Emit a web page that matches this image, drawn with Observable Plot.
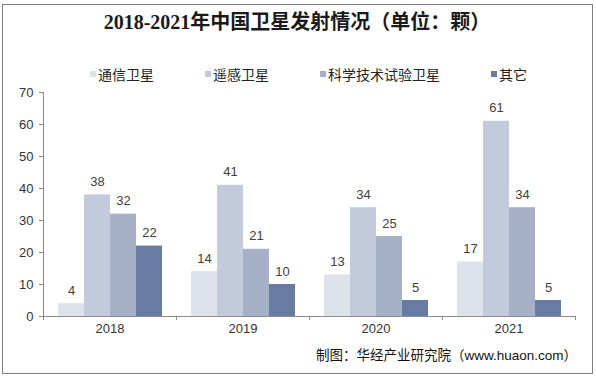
<!DOCTYPE html>
<html>
<head>
<meta charset="utf-8">
<script src="https://cdn.jsdelivr.net/npm/d3@7"></script>
<script src="https://cdn.jsdelivr.net/npm/@observablehq/plot@0.6"></script>
<style>
  html, body { margin: 0; padding: 0; background: #fff; }
  #page { position: relative; width: 596px; height: 377px; overflow: hidden; font-family: "Liberation Sans", "Noto Sans CJK SC", sans-serif; }
  #border { position: absolute; left: 2px; top: 4px; width: 591px; height: 370px; box-sizing: border-box; border: 1px solid #7f7f7f; }
  #title { position: absolute; left: 0; top: 9px; width: 594px; text-align: center; font-family: "Liberation Serif", "Noto Sans CJK SC", serif; font-weight: bold; font-size: 20px; line-height: 26px; color: #1a1a1a; }
  #legend { position: absolute; left: 90px; top: 64px; display: flex; gap: 51px; font-family: "Noto Sans CJK SC", sans-serif; font-size: 14px; line-height: 20px; color: #222; }
  #legend .item { display: flex; align-items: center; }
  #legend .sw { width: 6px; height: 6px; margin-right: 2px; }
  #chart { position: absolute; left: 0; top: 80px; }
  #caption { position: absolute; right: 19px; top: 346px; font-family: "Liberation Sans", "Noto Sans CJK SC", sans-serif; font-size: 13.5px; line-height: 20px; color: #111; white-space: nowrap; }
  #chart svg [aria-label="y-axis tick"] path { stroke: #8a8a8a; }
</style>
</head>
<body>
<div id="page">
  <div id="border"></div>
  <div id="title">2018-2021年中国卫星发射情况（单位：颗）</div>
  <div id="legend"></div>
  <div id="chart"></div>
  <div id="caption">制图：华经产业研究院（www.huaon.com）</div>
</div>
<script>
// ---- data ----
const years = ["2018", "2019", "2020", "2021"];
const seriesNames = ["通信卫星", "遥感卫星", "科学技术试验卫星", "其它"];
const commSat = [4, 14, 13, 17];
const remoteSat = [38, 41, 34, 61];
const sciTechSat = [32, 21, 25, 34];
const otherSat = [22, 10, 5, 5];
const seriesColors = ["#dde2eb", "#c3cadb", "#a6b1c8", "#687ca2"];
const yTicks = [0, 10, 20, 30, 40, 50, 60, 70];

const seriesValues = [commSat, remoteSat, sciTechSat, otherSat];
const rows = years.flatMap((yr, i) =>
  seriesNames.map((s, j) => ({ year: yr, series: s, value: seriesValues[j][i] }))
);

// ---- legend ----
const legend = document.getElementById("legend");
seriesNames.forEach((s, j) => {
  const item = document.createElement("div");
  item.className = "item";
  const sw = document.createElement("span");
  sw.className = "sw";
  sw.style.background = seriesColors[j];
  const tx = document.createElement("span");
  tx.textContent = s;
  item.appendChild(sw);
  item.appendChild(tx);
  legend.appendChild(item);
});

// ---- chart ----
const W = 596, H = 258, mL = 43, mR = 21, mT = 12, mB = 22;
const plot = Plot.plot({
  width: W,
  height: H,
  marginLeft: mL,
  marginRight: mR,
  marginTop: mT,
  marginBottom: mB,
  style: { fontFamily: "Liberation Sans, Arial, sans-serif", fontSize: "13px", color: "#333", background: "transparent" },
  fx: { domain: years, padding: 0, label: null, axis: "bottom", tickSize: 0, tickPadding: 7, fontSize: 12 },
  x: { domain: seriesNames, paddingInner: 0, paddingOuter: 0.52, axis: null },
  y: { domain: [0, 70], ticks: yTicks, tickSize: 4, tickPadding: 6, label: null },
  color: { domain: seriesNames, range: seriesColors },
  marks: [
    Plot.barY(rows, { fx: "year", x: "series", y: "value", fill: "series" }),
    Plot.ruleY([0], { stroke: "#8a8a8a" }),
    Plot.text(rows, { fx: "year", x: "series", y: "value", text: d => String(d.value), dy: -13, fill: "#404040", fontSize: 13 })
  ]
});
document.getElementById("chart").appendChild(plot);

// y-axis line and group boundary ticks derived from the scales
const fxs = plot.scale("fx");
const ys = plot.scale("y");
const svg = d3.select(plot);
const y0 = ys.apply ? ys.apply(0) : (H - mB);
const yTop = ys.apply ? ys.apply(70) : mT;
const x0 = fxs.range[0];
const bounds = fxs.domain.map((d, i) => x0 + i * fxs.step).concat([fxs.range[1]]);
const g = svg.append("g").attr("stroke", "#8a8a8a").attr("shape-rendering", "crispEdges");
g.append("line").attr("x1", x0 + 0.5).attr("x2", x0 + 0.5).attr("y1", yTop).attr("y2", y0);
bounds.forEach(b => {
  g.append("line").attr("x1", Math.round(b) + 0.5).attr("x2", Math.round(b) + 0.5).attr("y1", y0).attr("y2", y0 + 4);
});
</script>
</body>
</html>
